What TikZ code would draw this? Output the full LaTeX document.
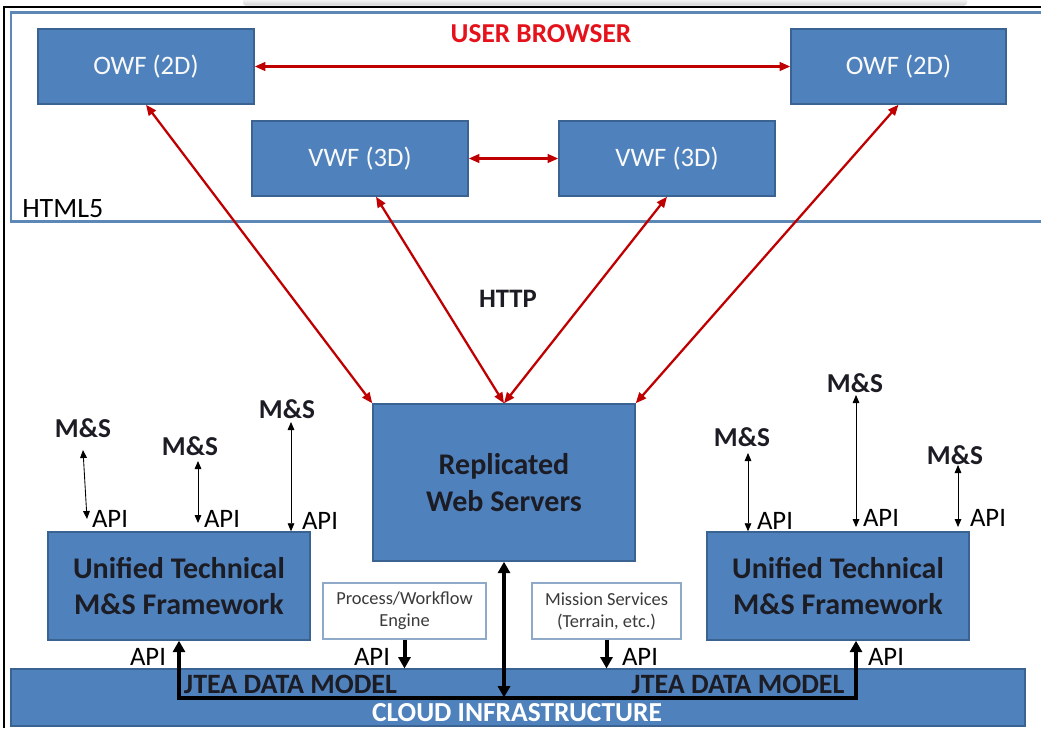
\documentclass[tikz,border=0pt]{standalone}
\usepackage{fontspec}
\setmainfont{Carlito}
\usetikzlibrary{arrows.meta,calc}
\definecolor{boxblue}{HTML}{4F81BD}
\definecolor{boxedge}{HTML}{3B6391}
\definecolor{arrred}{HTML}{C00000}
\definecolor{titlered}{HTML}{E5121B}
\definecolor{frameblue}{HTML}{5D87B5}
\definecolor{thinedge}{HTML}{8FA9C9}
\definecolor{darktext}{HTML}{1C1C24}
\definecolor{graytext}{HTML}{3A3A3A}
\begin{document}
\begin{tikzpicture}[x=0.75pt,y=-0.75pt,
  bluebox/.style={draw=boxedge,line width=1.1pt,fill=boxblue,inner sep=0pt,align=center},
  whitebox/.style={draw=thinedge,line width=0.8pt,fill=white,inner sep=0pt,align=center,text=graytext,
    font=\fontsize{13.8}{16.5}\selectfont},
  owftext/.style={text=white!95!gray,font=\fontsize{20}{24}\selectfont},
  bigtext/.style={text=darktext,font=\fontsize{22.5}{27.3}\selectfont\bfseries},
  mslabel/.style={text=darktext,font=\fontsize{20.5}{24}\selectfont\bfseries,inner sep=0pt},
  apilabel/.style={text=black,font=\fontsize{20}{24}\selectfont,inner sep=0pt},
  redarrow/.style={draw=arrred,line width=1.7pt,{Triangle[length=8pt,width=6.5pt]}-{Triangle[length=8pt,width=6.5pt]}},
  thinarrow/.style={draw=black,line width=0.65pt,{Triangle[length=6pt,width=5pt]}-{Triangle[length=6pt,width=5pt]}},
  thickline/.style={draw=black,line width=3pt},
  thicktip/.style={-{Triangle[length=8.5pt,width=9pt]}},
  thickboth/.style={{Triangle[length=8.5pt,width=9pt]}-{Triangle[length=8.5pt,width=9pt]}}
]
\useasboundingbox (0,0) rectangle (1041,728);
\fill[white] (0,0) rectangle (1041,728);
% top shadow
\shade[top color=white,bottom color=gray!35,rounded corners=2pt] (243,-2) rectangle (967,5.5);
% outer frame
\draw[line width=2.2pt,black] (4,728) -- (4,7) -- (1041,7);
% HTML5 frame
\draw[frameblue,line width=1.6pt] (1041,12.5) -- (11,12.5) -- (11,221.5) -- (1041,221.5);
\node[anchor=west,font=\fontsize{21}{24}\selectfont,inner sep=0pt] (html) at (22,209) {HTML5};
\node[text=titlered,font=\fontsize{20.5}{24}\selectfont\bfseries,inner sep=0pt] (ub) at (541,34) {USER BROWSER};

% browser boxes
\node[bluebox,owftext,minimum width=162pt,minimum height=56.25pt] (owfl) at (146,66.5) {OWF (2D)};
\node[bluebox,owftext,minimum width=161.25pt,minimum height=56.25pt] (owfr) at (898.5,66.5) {OWF (2D)};
\node[bluebox,owftext,minimum width=162pt,minimum height=56.25pt] (vwfl) at (360,158.5) {VWF (3D)};
\node[bluebox,owftext,minimum width=162pt,minimum height=56.25pt] (vwfr) at (667,158.5) {VWF (3D)};

% web servers
\node[bluebox,bigtext,minimum width=196.5pt,minimum height=117.75pt] (web) at (504,482.5) {Replicated\\Web Servers};
\node[text=darktext,font=\fontsize{20}{24}\selectfont\bfseries,inner sep=0pt] (http) at (508,299) {HTTP};

% red connectors
\draw[redarrow] (owfl.east) -- (owfr.west);
\draw[redarrow] (vwfl.east) -- (vwfr.west);
\draw[redarrow] (owfl.south) -- (web.north west);
\draw[redarrow] ([xshift=12pt]vwfl.south) -- (web.north);
\draw[redarrow] (vwfr.south) -- (web.north);
\draw[redarrow] (owfr.south) -- (web.north east);

% frameworks
\node[bluebox,bigtext,minimum width=196.5pt,minimum height=81pt] (utfl) at (179,586) {Unified Technical\\M\&S Framework};
\node[bluebox,bigtext,minimum width=196.5pt,minimum height=81pt] (utfr) at (838,586) {Unified Technical\\M\&S Framework};

% cloud bar
\node[bluebox,minimum width=760.5pt,minimum height=42.75pt,line width=0.8pt] (cloud) at (518,697.5) {};
\node[text=darktext,font=\fontsize{21}{24}\selectfont\bfseries,inner sep=0pt] (jl) at (290.5,684) {JTEA DATA MODEL};
\node[text=darktext,font=\fontsize{21}{24}\selectfont\bfseries,inner sep=0pt] (jr) at (738,684) {JTEA DATA MODEL};
\node[text=white,font=\fontsize{20.6}{24}\selectfont\bfseries,inner sep=0pt] (ci) at (517,713) {CLOUD INFRASTRUCTURE};

% service boxes
\node[whitebox,minimum width=122.25pt,minimum height=42pt] (proc) at (404.5,611) {Process/Workflow\\Engine};
\node[whitebox,minimum width=111.75pt,minimum height=42pt] (mis) at (606.5,611) {Mission Services\\(Terrain, etc.)};

% thick black connectors
\coordinate (rtail) at ($(utfr.south)+(13.5pt,0)$);
\draw[thickline,thickboth] (utfl.south) |- (cloud.center) -| (rtail);
\draw[thickline,thickboth] (web.south) -- (web.south |- cloud.center);
\draw[thickline,thicktip] (proc.south) -- (proc.south |- cloud.north);
\draw[thickline,thicktip] (mis.south) -- (mis.south |- cloud.north);

% bottom API labels
\node[apilabel] (apib1) at (148,657) {API};
\node[apilabel] (apib2) at (372,657) {API};
\node[apilabel] (apib3) at (640,657) {API};
\node[apilabel] (apib4) at (886,657) {API};

% M&S labels
\node[mslabel] (ms1) at (83,428) {M\&S};
\node[mslabel] (ms2) at (190,446) {M\&S};
\node[mslabel] (ms3) at (287,409) {M\&S};
\node[mslabel] (ms4) at (742,437) {M\&S};
\node[mslabel] (ms5) at (855,383) {M\&S};
\node[mslabel] (ms6) at (955,455) {M\&S};

% API labels top
\node[apilabel] (api1) at (110,519) {API};
\node[apilabel] (api2) at (222,519) {API};
\node[apilabel] (api3) at (320,521) {API};
\node[apilabel] (api4) at (775,521) {API};
\node[apilabel] (api5) at (881,518) {API};
\node[apilabel] (api6) at (988,518) {API};

% thin arrows
\coordinate (t1) at (83,450); \coordinate (b1) at (87,519);
\coordinate (t2) at (198,461); \coordinate (b2) at (198,523);
\coordinate (t3) at (291,422);
\coordinate (t4) at (748,453);
\coordinate (t5) at (856,395); \coordinate (b5) at (856,527);
\coordinate (t6) at (958,465); \coordinate (b6) at (958,527);
\draw[thinarrow] (t1) -- (b1);
\draw[thinarrow] (t2) -- (b2);
\draw[thinarrow] (t3) -- (t3 |- utfl.north);
\draw[thinarrow] (t4) -- (t4 |- utfr.north);
\draw[thinarrow] (t5) -- (b5);
\draw[thinarrow] (t6) -- (b6);
\end{tikzpicture}
\end{document}
